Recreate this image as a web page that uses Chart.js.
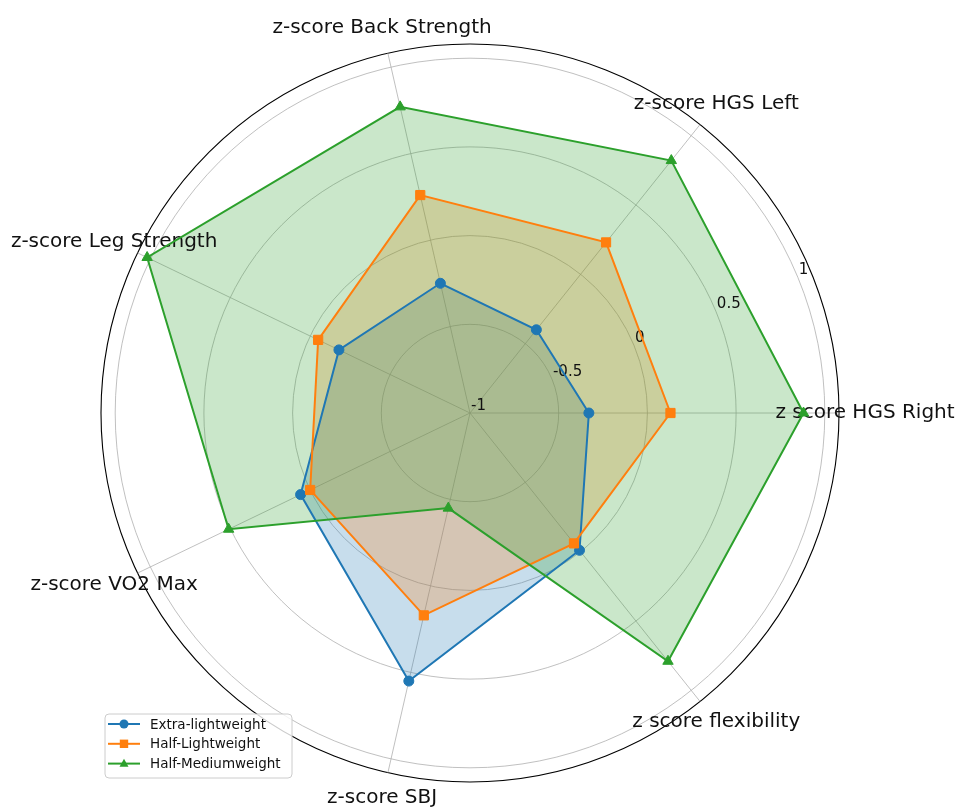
<!DOCTYPE html>
<html>
<head>
<meta charset="utf-8">
<script src="https://cdn.jsdelivr.net/npm/chart.js@4/dist/chart.umd.min.js"></script>
<style>
  html, body { margin: 0; padding: 0; background: #ffffff; }
  #wrap { width: 957px; height: 807px; position: relative; }
</style>
</head>
<body>
<div id="wrap"><canvas id="c"></canvas></div>
<script>
// ---- data (matplotlib order: counter-clockwise starting at the right) ----
const categories = [
  'z score HGS Right',
  'z-score HGS Left',
  'z-score Back Strength',
  'z-score Leg Strength',
  'z-score VO2 Max',
  'z-score SBJ',
  'z score flexibility'
];
const seriesNames = ['Extra-lightweight', 'Half-Lightweight', 'Half-Mediumweight'];
const extraLightweight = [-0.33, -0.40, -0.25, -0.18, 0.06, 0.55, -0.01];
const halfLightweight  = [0.13, 0.23, 0.26, -0.05, 0.00, 0.17, -0.06];
const halfMediumweight = [0.88, 0.82, 0.77, 1.02, 0.51, -0.45, 0.79];
const rTicks = [-1, -0.5, 0, 0.5, 1];
const rMin = -1;
const rMax = 1.08;

// ---- styling ----
const colors = ['#1f77b4', '#ff7f0e', '#2ca02c'];
const fills = ['rgba(31,119,180,0.25)', 'rgba(255,127,14,0.25)', 'rgba(44,160,44,0.25)'];
const markers = ['circle', 'rect', 'triangle'];
const markerRadius = [5, 6.5, 6];
const FONT = "'DejaVu Sans', 'Liberation Sans', sans-serif";

// Chart.js radar goes clockwise, matplotlib counter-clockwise: reorder
const order = [0, 6, 5, 4, 3, 2, 1];
const chartLabels = order.map(i => categories[i]);
const seriesValues = [extraLightweight, halfLightweight, halfMediumweight];

const datasets = seriesValues.map((vals, k) => ({
  label: seriesNames[k],
  data: order.map(i => vals[i]),
  borderColor: colors[k],
  backgroundColor: fills[k],
  borderWidth: 2,
  fill: 'start',
  pointStyle: markers[k],
  pointRadius: markerRadius[k],
  pointHoverRadius: markerRadius[k],
  pointBackgroundColor: colors[k],
  pointBorderColor: colors[k],
  pointBorderWidth: 1,
  order: 2 - k
}));

const labelPlugin = {
  id: 'mplLabels',
  beforeDatasetsDraw(chart) {
    const s = chart.scales.r;
    const ctx = chart.ctx;
    ctx.save();
    ctx.fillStyle = '#111111';
    // category labels, centred beyond the outer circle
    ctx.font = '20px ' + FONT;
    ctx.textAlign = 'center';
    ctx.textBaseline = 'middle';
    chartLabels.forEach((lab, i) => {
      const p = s.getPointPosition(i, s.drawingArea + 26);
      ctx.fillText(lab, p.x, p.y);
    });
    // radial tick labels at 22.5 degrees
    ctx.font = '15px ' + FONT;
    ctx.textAlign = 'left';
    ctx.textBaseline = 'alphabetic';
    const a = 22.5 * Math.PI / 180;
    rTicks.forEach(v => {
      const d = s.getDistanceFromCenterForValue(v);
      const x = s.xCenter + d * Math.cos(a) + 1;
      const y = s.yCenter - d * Math.sin(a) - 3;
      ctx.fillText(String(v), x, y);
    });
    ctx.restore();
  }
};

function drawMarker(ctx, style, x, y, r) {
  ctx.beginPath();
  if (style === 'circle') {
    ctx.arc(x, y, r, 0, Math.PI * 2);
  } else if (style === 'rect') {
    ctx.rect(x - r, y - r, 2 * r, 2 * r);
  } else {
    ctx.moveTo(x, y - r * 1.1);
    ctx.lineTo(x + r, y + r * 0.7);
    ctx.lineTo(x - r, y + r * 0.7);
    ctx.closePath();
  }
  ctx.fill();
}

const legendPlugin = {
  id: 'mplLegend',
  afterDraw(chart) {
    const ctx = chart.ctx;
    ctx.save();
    const x0 = 105, y0 = 714, w = 187, h = 64, rr = 4;
    ctx.beginPath();
    ctx.moveTo(x0 + rr, y0);
    ctx.lineTo(x0 + w - rr, y0);
    ctx.quadraticCurveTo(x0 + w, y0, x0 + w, y0 + rr);
    ctx.lineTo(x0 + w, y0 + h - rr);
    ctx.quadraticCurveTo(x0 + w, y0 + h, x0 + w - rr, y0 + h);
    ctx.lineTo(x0 + rr, y0 + h);
    ctx.quadraticCurveTo(x0, y0 + h, x0, y0 + h - rr);
    ctx.lineTo(x0, y0 + rr);
    ctx.quadraticCurveTo(x0, y0, x0 + rr, y0);
    ctx.closePath();
    ctx.fillStyle = 'rgba(255,255,255,0.8)';
    ctx.fill();
    ctx.strokeStyle = '#cccccc';
    ctx.lineWidth = 1;
    ctx.stroke();
    ctx.font = '13.5px ' + FONT;
    ctx.textAlign = 'left';
    ctx.textBaseline = 'middle';
    seriesNames.forEach((name, k) => {
      const y = 724 + k * 19.8;
      ctx.strokeStyle = colors[k];
      ctx.lineWidth = 2;
      ctx.beginPath();
      ctx.moveTo(108, y);
      ctx.lineTo(140, y);
      ctx.stroke();
      ctx.fillStyle = colors[k];
      drawMarker(ctx, markers[k], 124, y, k === 1 ? 4.2 : 4.5);
      ctx.fillStyle = '#111111';
      ctx.fillText(name, 150, y + 1);
    });
    ctx.restore();
  }
};

new Chart(document.getElementById('c'), {
  type: 'radar',
  data: { labels: chartLabels, datasets },
  options: {
    responsive: true,
    maintainAspectRatio: false,
    animation: false,
    layout: { padding: { left: 101, right: 118, top: 44, bottom: 25 } },
    plugins: {
      legend: { display: false },
      tooltip: { enabled: false },
      filler: { drawTime: 'beforeDatasetsDraw' }
    },
    elements: { line: { tension: 0 } },
    scales: {
      r: {
        min: rMin,
        max: rMax,
        startAngle: 90,
        afterBuildTicks(scale) {
          scale.ticks = rTicks.concat([rMax]).map(v => ({ value: v }));
        },
        ticks: { display: false },
        pointLabels: { display: false },
        angleLines: { display: true, color: '#b0b0b0', lineWidth: 0.8 },
        grid: {
          circular: true,
          color: ctx => (ctx.tick && ctx.tick.value >= rMax ? '#000000' : '#b0b0b0'),
          lineWidth: ctx => (ctx.tick && ctx.tick.value >= rMax ? 1.1 : 0.8)
        }
      }
    }
  },
  plugins: [labelPlugin, legendPlugin]
});
</script>
</body>
</html>
